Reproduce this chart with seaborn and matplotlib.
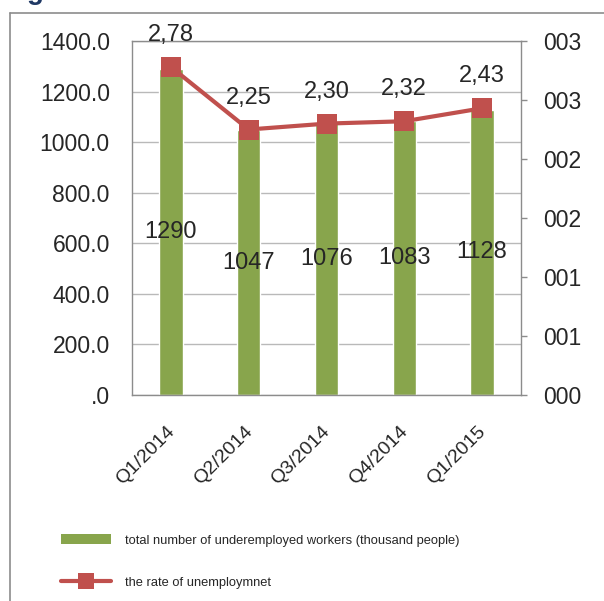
import numpy as np
import pandas as pd
import matplotlib
matplotlib.use("Agg")
import matplotlib.pyplot as plt
from matplotlib import font_manager
import seaborn as sns
from matplotlib.patches import Patch
from matplotlib.lines import Line2D
from matplotlib.ticker import FuncFormatter

# Quarterly labour figures
quarters = ["Q1/2014", "Q2/2014", "Q3/2014", "Q4/2014", "Q1/2015"]
underemployed = [1290, 1047, 1076, 1083, 1128]          # thousand people
unemployment_rate = [2.78, 2.25, 2.30, 2.32, 2.43]      # percent
left_ticks = [0, 200, 400, 600, 800, 1000, 1200, 1400]
right_ticks = [0, 0.5, 1.0, 1.5, 2.0, 2.5, 3.0]
bar_label = "total number of underemployed workers (thousand people)"
line_label = "the rate of unemploymnet"

BAR_GREEN = "#88A54C"
LINE_RED = "#C0504D"
GRID = "#B9B9B9"
SPINE = "#8C8C8C"
TITLE_NAVY = "#1F3864"

sns.set_style("white")
plt.rcParams["font.family"] = ["Liberation Sans", "DejaVu Sans"]

# Legend uses a narrow face when one is installed
try:
    font_manager.findfont(font_manager.FontProperties(family="Liberation Sans Narrow"),
                          fallback_to_default=False)
    legend_font = {"family": "Liberation Sans Narrow", "size": 10.5}
except ValueError:
    legend_font = {"family": "Liberation Sans", "size": 9.3}
fs = legend_font["size"]

W, H = 604, 601
fig = plt.figure(figsize=(W / 100, H / 100), dpi=100)
ax = fig.add_axes([132 / W, 1 - 395 / H, 389 / W, 354 / H])

df = pd.DataFrame({"quarter": quarters, "workers": underemployed,
                   "rate": unemployment_rate})

# Bars: underemployed workers on the left axis
sns.barplot(data=df, x="quarter", y="workers", color=BAR_GREEN,
            saturation=1, width=0.3, ax=ax, zorder=2)
ax.set_axisbelow(True)
ax.set_xlim(-0.5, len(quarters) - 0.5)
ax.set_ylim(left_ticks[0], left_ticks[-1])
ax.set_yticks(left_ticks)
ax.yaxis.set_major_formatter(FuncFormatter(lambda v, p: ".0" if v == 0 else f"{v:.1f}"))
ax.grid(axis="y", color=GRID, lw=1)
ax.grid(axis="x", visible=False)
ax.set_xlabel("")
ax.set_ylabel("")
# rotated category labels end just left of each bar centre
label_nudge = 0.065
ax.set_xticks([i - label_nudge for i in range(len(quarters))])
ax.set_xticklabels(quarters, rotation=45, ha="right", va="top",
                   rotation_mode="anchor", fontsize=14)
ax.tick_params(axis="x", length=0, pad=20)
ax.tick_params(axis="y", length=0, pad=16, labelsize=16.5)
for side in ("left", "bottom", "top"):
    ax.spines[side].set_color(SPINE)
    ax.spines[side].set_linewidth(1)
ax.spines["right"].set_visible(False)

for i, v in enumerate(underemployed):
    ax.text(i, v / 2, str(v), ha="center", va="center", fontsize=17, zorder=3)

# Line: unemployment rate on the right axis
ax2 = ax.twinx()
sns.lineplot(x=np.arange(len(quarters)), y=unemployment_rate, ax=ax2,
             color=LINE_RED, lw=3, marker="s", markersize=14,
             markeredgecolor=LINE_RED, markeredgewidth=0)
ax2.set_ylim(right_ticks[0], right_ticks[-1])
ax2.set_yticks(right_ticks)
ax2.yaxis.set_major_formatter(FuncFormatter(lambda v, p: f"{int(np.floor(v + 0.5)):03d}"))
ax2.tick_params(axis="y", length=4, width=1, color=SPINE, direction="out",
                pad=12, labelsize=16.5)
ax2.set_ylabel("")
ax2.grid(False)
for side in ("left", "bottom", "top"):
    ax2.spines[side].set_visible(False)
ax2.spines["right"].set_color(SPINE)
ax2.spines["right"].set_linewidth(1)

for i, v in enumerate(unemployment_rate):
    ax2.annotate(f"{v:.2f}".replace(".", ","), (i, v), xytext=(0, 23),
                 textcoords="offset points", ha="center", va="center",
                 fontsize=17)

# Legend below the plot
handles = [
    Patch(facecolor=BAR_GREEN, edgecolor="none", label=bar_label),
    Line2D([], [], color=LINE_RED, lw=3, marker="s", markersize=11,
           markeredgewidth=0, label=line_label),
]
fig.legend(handles=handles, loc="upper left",
           bbox_to_anchor=(61 / W, 1 - 534 / H), frameon=False, prop=legend_font,
           handlelength=36 / fs, handleheight=8 / fs, handletextpad=10 / fs,
           labelspacing=(32 - max(8, fs * 1.15)) / fs, borderpad=0,
           borderaxespad=0)

# Surrounding frame and the heading above it
fig.add_artist(Line2D([10 / W, 1], [1 - 13 / H, 1 - 13 / H],
                      transform=fig.transFigure, color=SPINE, lw=1.2))
fig.add_artist(Line2D([10 / W, 10 / W], [0, 1 - 13 / H],
                      transform=fig.transFigure, color=SPINE, lw=1.2))
fig.text(27 / W, 1 + 1 / H, "g", color=TITLE_NAVY, fontsize=20,
         fontweight="bold", ha="left", va="baseline")

fig.savefig("out.png", dpi=100)
